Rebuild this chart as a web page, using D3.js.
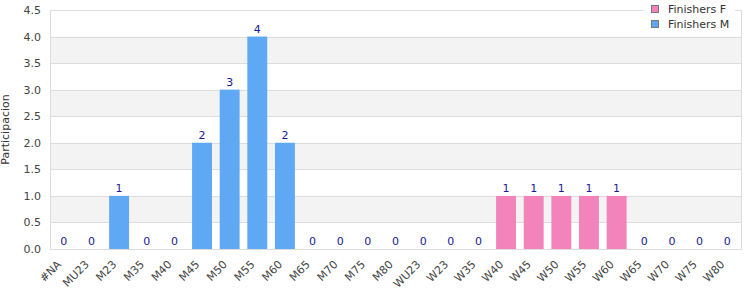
<!DOCTYPE html>
<html>
<head>
<meta charset="utf-8">
<script src="https://cdn.jsdelivr.net/npm/d3@7"></script>
<style>
  body { margin: 0; background: #fff; }
  text { font-family: "DejaVu Sans", sans-serif; }
</style>
</head>
<body>
<div id="chart"></div>
<script>
var svgWidth = 750;
var svgHeight = 300;

var margin = { top: 10, right: 9, bottom: 51, left: 50 };
var width = svgWidth - margin.left - margin.right;
var height = svgHeight - margin.top - margin.bottom;

// categories
var menCats = ["#NA", "MU23", "M23", "M35", "M40", "M45", "M50", "M55", "M60", "M65", "M70", "M75", "M80"];
var womenCats = ["WU23", "W23", "W35", "W40", "W45", "W50", "W55", "W60", "W65", "W70", "W75", "W80"];
var categories = menCats.concat(womenCats);

// series values
var finishersM = [0, 0, 1, 0, 0, 2, 3, 4, 2, 0, 0, 0, 0];
var finishersF = [0, 0, 0, 1, 1, 1, 1, 1, 0, 0, 0, 0];

var yTicks = [0, 0.5, 1, 1.5, 2, 2.5, 3, 3.5, 4, 4.5];

var colorM = "#5fa8f4";
var colorF = "#f283bb";

var data = [];
menCats.forEach(function(c, i) { data.push({ cat: c, value: finishersM[i], color: colorM }); });
womenCats.forEach(function(c, i) { data.push({ cat: c, value: finishersF[i], color: colorF }); });

var svg = d3.select("#chart")
  .append("svg")
  .attr("width", svgWidth)
  .attr("height", svgHeight);

var chartGroup = svg.append("g")
  .attr("transform", `translate(${margin.left}, ${margin.top})`);

var xScale = d3.scaleBand()
  .domain(categories)
  .range([0, width])
  .paddingInner(0.28)
  .paddingOuter(0.14);

var yScale = d3.scaleLinear()
  .domain([0, 4.5])
  .range([height, 0]);

// alternating bands
for (var i = 0; i < yTicks.length - 1; i++) {
  if (i % 2 == 1) {
    chartGroup.append("rect")
      .attr("x", 0)
      .attr("y", yScale(yTicks[i + 1]))
      .attr("width", width)
      .attr("height", yScale(yTicks[i]) - yScale(yTicks[i + 1]))
      .attr("fill", "#f3f3f3");
  }
}

// grid lines
chartGroup.selectAll(".grid")
  .data(yTicks)
  .enter()
  .append("line")
  .attr("x1", 0)
  .attr("x2", width)
  .attr("y1", d => Math.round(yScale(d)) + 0.5)
  .attr("y2", d => Math.round(yScale(d)) + 0.5)
  .attr("stroke", "#dddddd");

// frame
chartGroup.append("rect")
  .attr("x", 0.5)
  .attr("y", 0.5)
  .attr("width", width)
  .attr("height", height)
  .attr("fill", "none")
  .attr("stroke", "#dddddd");

// bars
chartGroup.selectAll(".bar")
  .data(data)
  .enter()
  .append("rect")
  .attr("x", d => xScale(d.cat))
  .attr("y", d => yScale(d.value))
  .attr("width", xScale.bandwidth())
  .attr("height", d => height - yScale(d.value))
  .attr("fill", d => d.color);

// value labels
chartGroup.selectAll(".lbl")
  .data(data)
  .enter()
  .append("text")
  .attr("x", d => xScale(d.cat) + xScale.bandwidth() / 2)
  .attr("y", d => yScale(d.value) - 4)
  .attr("text-anchor", "middle")
  .attr("font-size", "11px")
  .attr("fill", "#1a1a96")
  .text(d => d.value);

// y axis
var leftAxis = d3.axisLeft(yScale)
  .tickValues(yTicks)
  .tickFormat(d3.format(".1f"))
  .tickSize(0)
  .tickPadding(9);

var yAxisG = chartGroup.append("g").call(leftAxis);
yAxisG.select(".domain").remove();
yAxisG.selectAll("text")
  .attr("font-size", "11px")
  .attr("fill", "#444")
  .attr("font-family", "DejaVu Sans, sans-serif");

// x axis
var bottomAxis = d3.axisBottom(xScale).tickSize(0);
var xAxisG = chartGroup.append("g")
  .attr("transform", `translate(0, ${height})`)
  .call(bottomAxis);
xAxisG.select(".domain").remove();
xAxisG.selectAll("text")
  .attr("font-size", "11px")
  .attr("fill", "#444")
  .attr("font-family", "DejaVu Sans, sans-serif")
  .attr("text-anchor", "end")
  .attr("dy", "0")
  .attr("transform", "translate(-4, 14) rotate(-45)");

// y axis title
svg.append("text")
  .attr("transform", `translate(9, ${margin.top + height / 2}) rotate(-90)`)
  .attr("text-anchor", "middle")
  .attr("font-size", "11px")
  .attr("fill", "#333")
  .text("Participacion");

// legend
var legendItems = [
  { name: "Finishers F", color: colorF },
  { name: "Finishers M", color: colorM }
];
var legend = svg.append("g").attr("transform", "translate(643, 0)");
legend.append("rect")
  .attr("x", 0)
  .attr("y", 0)
  .attr("width", 92)
  .attr("height", 32)
  .attr("fill", "#fff");
legendItems.forEach(function(item, i) {
  legend.append("rect")
    .attr("x", 8.5)
    .attr("y", 5.5 + i * 15)
    .attr("width", 7)
    .attr("height", 7)
    .attr("fill", item.color)
    .attr("stroke", "#777");
  legend.append("text")
    .attr("x", 25)
    .attr("y", 13 + i * 15)
    .attr("font-size", "11px")
    .attr("fill", "#333")
    .text(item.name);
});
</script>
</body>
</html>
